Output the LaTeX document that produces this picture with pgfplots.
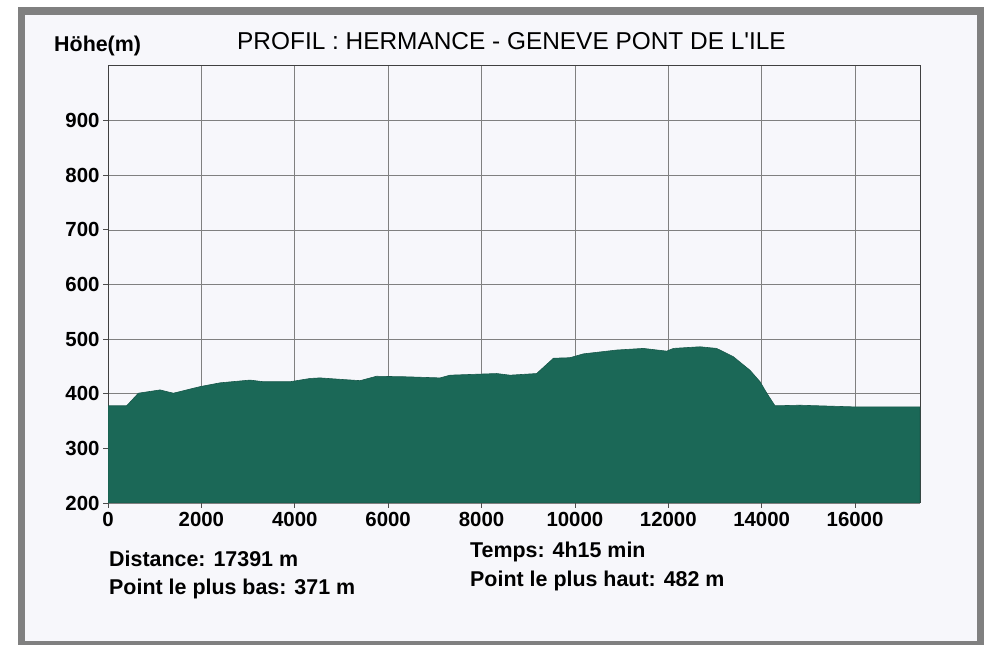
\documentclass[border=0pt]{standalone}
\usepackage{fontspec}
\setmainfont{Liberation Sans}[Ligatures=TeXOff]
\usepackage{pgfplots}
\pgfplotsset{compat=1.18}
\definecolor{terrain}{RGB}{27,104,87}
\definecolor{paper}{RGB}{247,247,251}
\definecolor{framegray}{RGB}{128,128,128}
\begin{document}
\begin{tikzpicture}
\fill[white] (0bp,0bp) rectangle (989bp,645bp);
\fill[framegray] (18bp,0bp) rectangle (984bp,638bp);
\fill[paper] (25bp,4bp) rectangle (977bp,630bp);
\begin{axis}[
  at={(108bp,142bp)}, anchor=south west,
  scale only axis, width=812bp, height=437bp,
  xmin=0, xmax=17391, ymin=200, ymax=1000,
  xtick={0,2000,...,16000}, ytick={200,300,...,900},
  grid=major,
  major grid style={draw=black!50, line width=0.7bp},
  axis line style={draw=black!75, line width=1bp},
  tick align=outside, major tick length=5bp,
  tick style={draw=black!70, line width=0.8bp},
  xtick pos=bottom, ytick pos=left,
  /pgf/number format/assume math mode=true,
  /pgf/number format/1000 sep={},
  tick label style={font=\fontsize{20.5}{24}\selectfont\bfseries},
  xticklabel style={yshift=-1bp},
  scaled ticks=false,
]
\addplot[fill=terrain, draw=terrain!85!black, line width=0.6bp] coordinates {
(0,378) (400,378) (650,401) (1114,407) (1400,401) (1970,413) (2400,420)
(3040,425) (3330,422) (3900,422) (4330,428) (4540,429) (5040,426) (5400,424)
(5750,432) (6400,431) (7110,429) (7325,434) (8325,437) (8610,434) (9180,437)
(9540,465) (9895,466) (10180,473) (10895,480) (11465,483) (11965,478)
(12110,483) (12680,486) (13035,483) (13390,468) (13750,443) (13965,422)
(14110,401) (14285,378) (14820,379) (15960,376) (17391,376)
} \closedcycle;
\end{axis}
\node[anchor=base west, font=\fontsize{24.5}{29}\selectfont, inner sep=0pt] at (237bp,595bp) {PROFIL : HERMANCE - GENEVE PONT DE L'ILE};
\node[anchor=base west, font=\fontsize{21.5}{25}\selectfont\bfseries, inner sep=0pt] at (54bp,593bp) {Höhe(m)};
\node[anchor=base west, font=\fontsize{21.5}{25}\selectfont\bfseries, inner sep=0pt] at (109bp,78bp) {Distance: 17391 m};
\node[anchor=base west, font=\fontsize{21.5}{25}\selectfont\bfseries, inner sep=0pt] at (109bp,50bp) {Point le plus bas: 371 m};
\node[anchor=base west, font=\fontsize{21.5}{25}\selectfont\bfseries, inner sep=0pt] at (470bp,87bp) {Temps: 4h15 min};
\node[anchor=base west, font=\fontsize{21.5}{25}\selectfont\bfseries, inner sep=0pt] at (470bp,58bp) {Point le plus haut: 482 m};
\end{tikzpicture}
\end{document}
